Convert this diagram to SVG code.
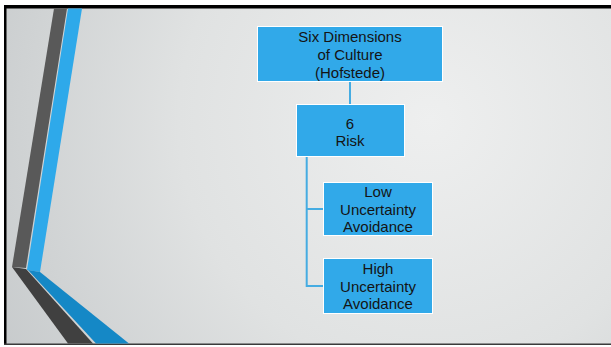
<svg xmlns="http://www.w3.org/2000/svg" width="611" height="347" viewBox="0 0 611 347">
<defs>
<radialGradient id="bg" cx="430" cy="120" r="560" gradientUnits="userSpaceOnUse">
<stop offset="0" stop-color="#eeefef"/>
<stop offset="0.45" stop-color="#e0e2e2"/>
<stop offset="1" stop-color="#bfc3c5"/>
</radialGradient>
<style>
.box{fill:#31a9e9;stroke:#ffffff;stroke-width:1}
.lbl{font-family:"Liberation Sans",Arial,sans-serif;font-size:15px;fill:#141414;text-anchor:middle}
.conn{stroke:#45ace2;stroke-width:2;fill:none}
</style>
</defs>
<rect width="611" height="347" fill="#ffffff"/>
<rect x="5" y="7" width="606" height="338" fill="url(#bg)"/>
<rect x="4" y="5" width="607" height="3.5" fill="#000000"/>
<rect x="4" y="5" width="2.5" height="340" fill="#000000"/>
<rect x="4" y="343.5" width="607" height="1.5" fill="#3a3a3a"/>
<g id="decor">
<polygon points="54,8.5 67,8.5 26,268 12,267" fill="#595959"/>
<polygon points="68,8.5 82,8.5 40,272 27,270" fill="#2ea9ea"/>
<polygon points="12,267 26,269 93,343.5 68,343.5" fill="#404040"/>
<polygon points="28,270 40,272 129,343.5 96,343.5" fill="#1588c6"/>
</g>
<g id="connectors">
<line class="conn" x1="350" y1="81" x2="350" y2="104"/>
<polyline class="conn" points="306.7,157 306.7,286 323,286"/>
<line class="conn" x1="306.7" y1="209" x2="323" y2="209"/>
</g>
<g id="n-root">
<rect class="box" x="257.5" y="26.5" width="185" height="55"/>
<text class="lbl" x="350" y="42">Six Dimensions</text>
<text class="lbl" x="350" y="60">of Culture</text>
<text class="lbl" x="350" y="78">(Hofstede)</text>
</g>
<g id="n-risk">
<rect class="box" x="296.5" y="104.5" width="108" height="52"/>
<text class="lbl" x="350" y="129">6</text>
<text class="lbl" x="350" y="146">Risk</text>
</g>
<g id="n-low">
<rect class="box" x="323.5" y="182.5" width="109" height="53"/>
<text class="lbl" x="378" y="197">Low</text>
<text class="lbl" x="378" y="215">Uncertainty</text>
<text class="lbl" x="378" y="232">Avoidance</text>
</g>
<g id="n-high">
<rect class="box" x="323.5" y="258.5" width="109" height="55"/>
<text class="lbl" x="378" y="274">High</text>
<text class="lbl" x="378" y="292">Uncertainty</text>
<text class="lbl" x="378" y="309">Avoidance</text>
</g>
</svg>
